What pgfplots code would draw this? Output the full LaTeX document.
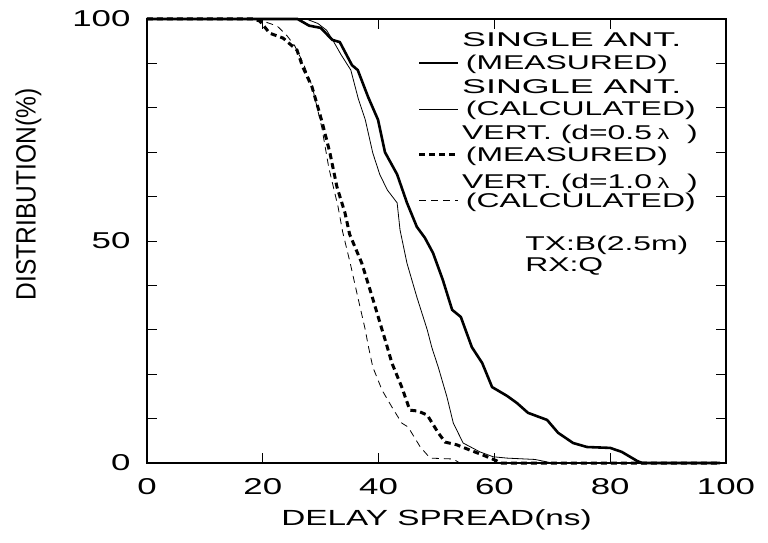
\documentclass[border=0pt]{standalone}
\usepackage{pgfplots}
\pgfplotsset{compat=1.18}
\usepackage{fontspec}
\setmainfont{Liberation Sans}
\newcommand\X[1]{\scalebox{1.52}[1]{#1}}
\newcommand\XL[1]{\scalebox{1.6}[1]{#1}}
\newcommand\XS[1]{\scalebox{1.8}[1]{#1}}
\newcommand\lam{{\fontsize{15}{15}\selectfont λ}}
\begin{document}
\begin{tikzpicture}
\useasboundingbox (-147bp,-80bp) rectangle (621bp,463bp);
\begin{axis}[
  at={(0,0)}, anchor=south west, clip=false,
  scale only axis, width=579bp, height=444bp,
  xmin=0, xmax=100, ymin=0, ymax=100,
  axis line style={line width=1.1bp},
  tick style={line width=0.9bp, black},
  tick align=inside,
  major tick length=10bp, minor tick length=10bp,
  xtick={0,20,40,60,80,100},
  xticklabels={\X{0},\X{20},\X{40},\X{60},\X{80},\X{100}},
  ytick={0,50,100},
  yticklabels={\X{0},\X{50},\X{100}},
  minor ytick={10,20,30,40,60,70,80,90},
  xticklabel style={font=\fontsize{23}{23}\selectfont, yshift=-12bp},
  yticklabel style={font=\fontsize{23}{23}\selectfont, xshift=-13bp},
  legend cell align=left,
  legend style={at={(0.468,0.921)}, anchor=north west, draw=none, fill=none,
    inner sep=0pt, outer sep=0pt,
    font=\fontsize{20}{20}\selectfont, row sep=28bp, column sep=5bp,
    nodes={inner sep=1bp}},
  legend image code/.code={\draw[#1] (0bp,0bp) -- (39bp,0bp);},
]
\addplot[black, line width=2.6bp] coordinates {
(0,100) (26,100) (28,98.5) (30,98) (32,95.3) (33.3,94.8) (35.4,89.6) (36.4,88.5)
(38.2,82.4) (39.9,77.3) (41.1,70) (43.2,65) (44.9,58.6) (46.6,53.2) (48,50.7)
(49.4,47.3) (51.1,41.2) (52.7,34.5) (54.2,32.9) (56.1,26.1) (57.9,22.5) (59.6,17.1)
(62.2,15.1) (63.9,13.5) (65.8,11.3) (69.1,9.7) (71,6.8) (73.6,4.5) (76,3.6)
(80,3.4) (82,2.5) (84.6,0.5) (85.5,0) (99,0)};
\addlegendentry{\XL{(MEASURED)}}
\addplot[black, line width=0.8bp] coordinates {
(0,100) (27.5,100) (29.5,99) (31,97.5) (32.1,95.2) (33.5,92) (35.2,88.5) (36.5,82)
(37.7,77.3) (39,69.8) (40.2,65) (41.5,61.5) (43.2,58.6) (43.7,52.5) (44.9,45)
(46.6,37.4) (48.4,30) (49.2,26) (50.3,21.6) (51.8,14.9) (52.9,9) (54.6,4.5)
(57.5,2.5) (59.8,1.4) (62.2,1.1) (67,0.8) (70,0) (99,0)};
\addlegendentry{\XL{(CALCULATED)}}
\addplot[black, line width=3bp, dash pattern=on 6bp off 4bp] coordinates {
(0,100) (18.5,100) (19.5,99.5) (21.2,96.8) (23.5,95.7) (25.9,93) (26.9,89.2)
(28.5,84.7) (29.5,80.2) (30.3,76.5) (31.6,69.8) (32.8,62.2) (34.2,56.3) (35,51.5)
(37.1,45) (38.9,37.4) (40.6,30) (41.3,27) (42.3,22.5) (44,17.1) (45.4,11.9)
(46.8,11.7) (48.4,10.8) (50.3,6.8) (51.5,4.7) (53.5,4.1) (55.8,2.9) (58,1.8)
(60.4,0.5) (61,0) (99,0)};
\addlegendentry{\XL{(MEASURED)}}
\addplot[black, line width=0.8bp, dash pattern=on 7bp off 5bp] coordinates {
(0,100) (19,100) (22.5,98.4) (24.2,96.2) (25.5,94) (27,90) (28.5,85) (30.2,75.5)
(31.4,66.5) (33,57.7) (33.8,52) (35.1,45) (36.4,37.4) (37.7,30) (38.2,26.5)
(39,21.6) (40.6,16.4) (42.3,12.6) (44,9) (45.1,8.1) (47.2,3.6) (48.9,1.1)
(52.9,0.9) (54,0) (99,0)};
\addlegendentry{\XL{(CALCULATED)}}
\begin{scope}[every node/.style={anchor=west, inner sep=0pt, font=\fontsize{20}{20}\selectfont}]
\node at (axis cs:54.4,95.4) {\XS{SINGLE ANT.}};
\node at (axis cs:54.4,84.8) {\XS{SINGLE ANT.}};
\node at (axis cs:54.4,74.0) {\XL{VERT. (d=0.5\,\lam\ \ )}};
\node at (axis cs:54.4,63.0) {\XL{VERT. (d=1.0\,\lam\ \ )}};
\node[align=left] at (axis cs:65.3,46.8) {\XL{TX:B(2.5m)}\\[1bp]\XL{RX:Q}};
\end{scope}
\node[rotate=90, inner sep=0pt, font=\fontsize{28}{28}\selectfont]
  at (axis description cs:-0.205,0.605) {\scalebox{0.88}[1]{DISTRIBUTION(\%)}};
\node[inner sep=0pt, font=\fontsize{22}{22}\selectfont]
  at (axis description cs:0.5,-0.128) {\X{DELAY SPREAD(ns)}};
\end{axis}
\end{tikzpicture}
\end{document}
